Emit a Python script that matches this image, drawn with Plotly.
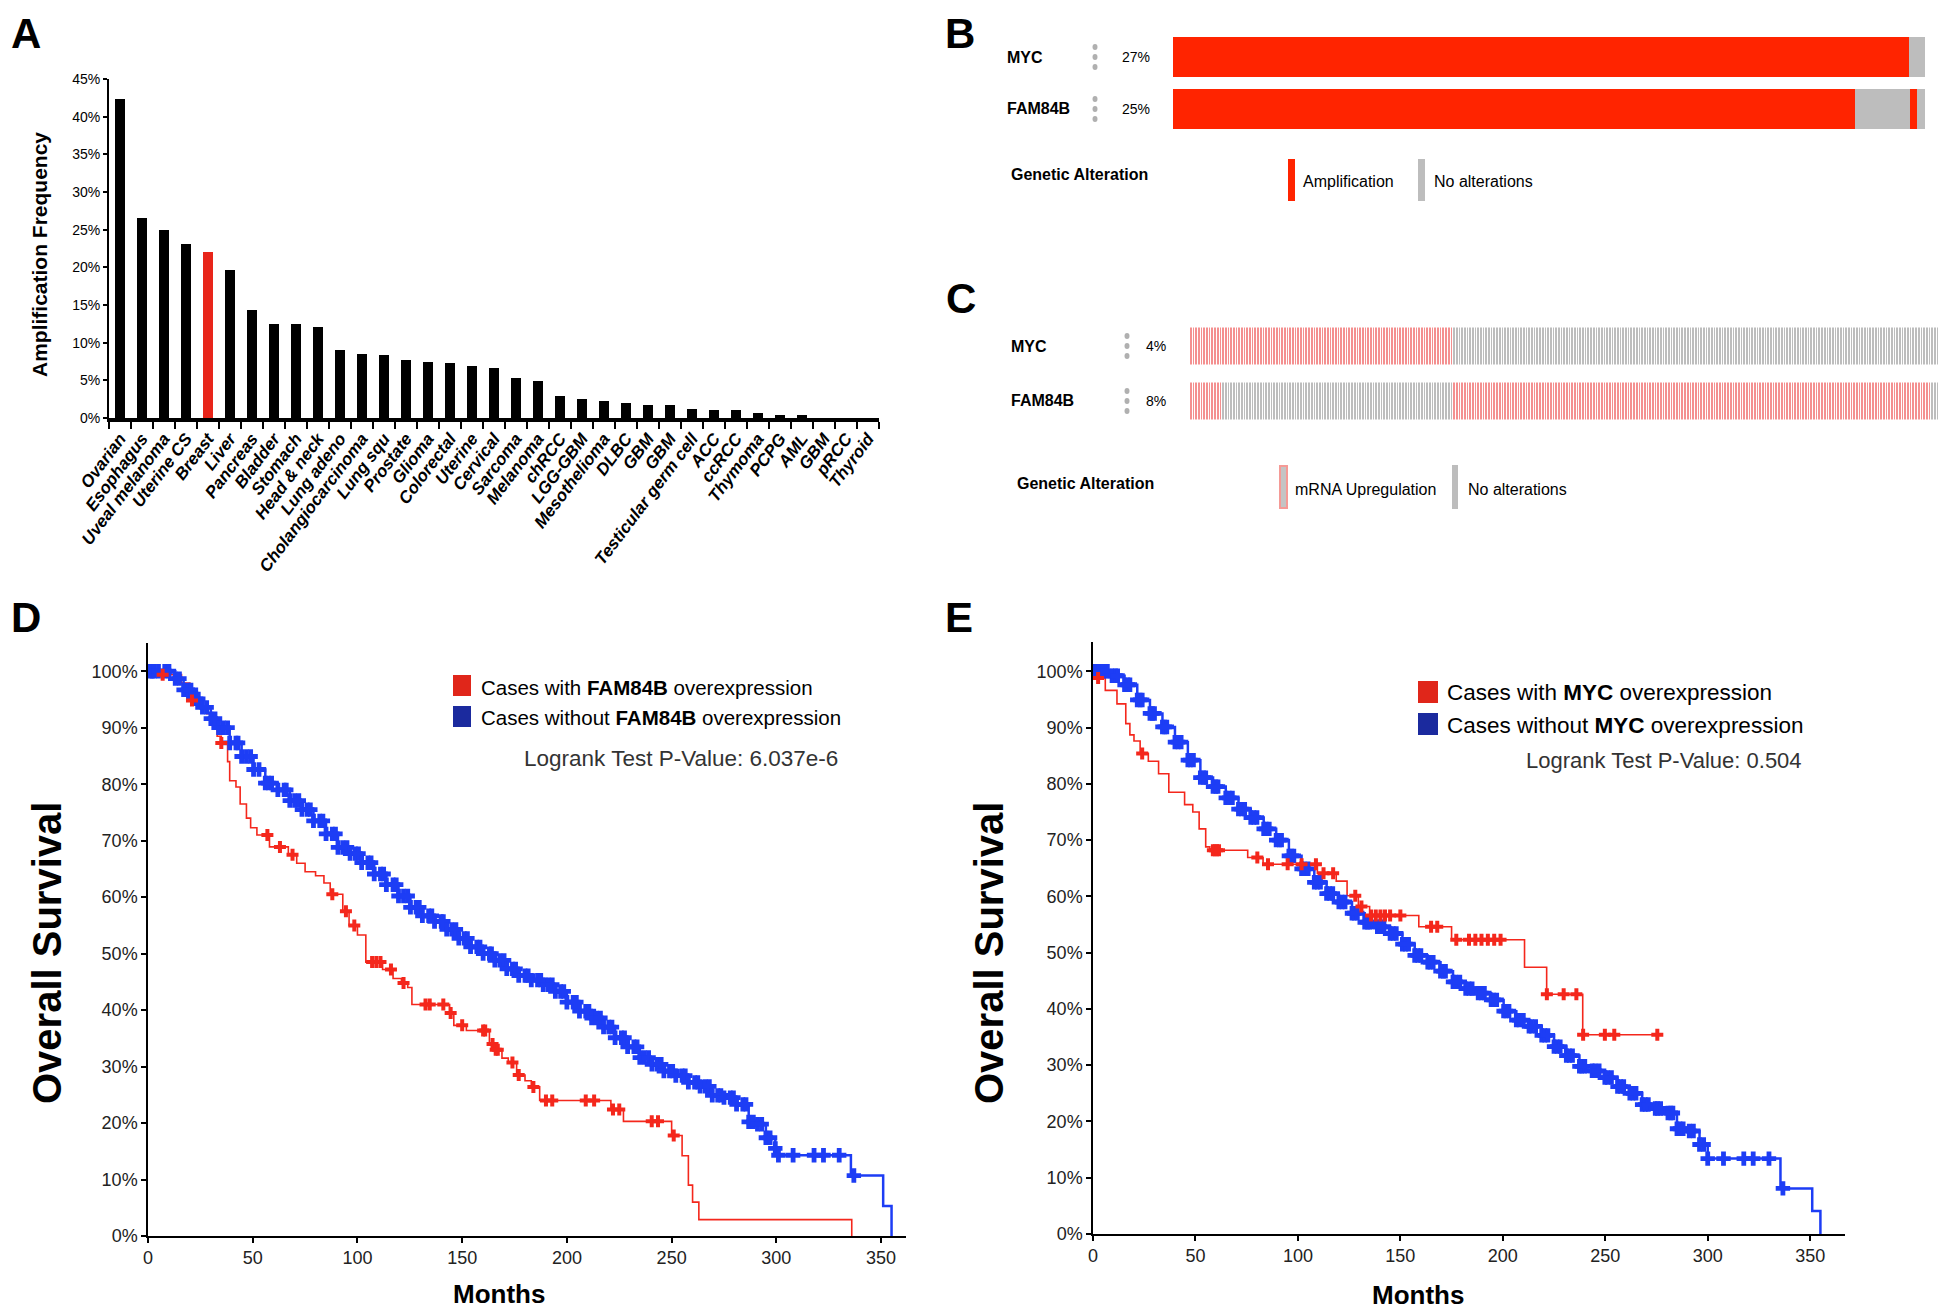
import numpy as np
import plotly.graph_objects as go

W, H = 1946, 1313
PAGE_OFF = 8  # default body margin of the written page

# ---------------- panel A: amplification frequency per cancer type
cancer_types = ["Ovarian", "Esophagus", "Uveal melanoma", "Uterine CS", "Breast", "Liver",
                "Pancreas", "Bladder", "Stomach", "Head & neck", "Lung adeno",
                "Cholangiocarcinoma", "Lung squ", "Prostate", "Glioma", "Colorectal",
                "Uterine", "Cervical", "Sarcoma", "Melanoma", "chRCC", "LGG-GBM",
                "Mesothelioma", "DLBC", "GBM", "GBM", "Testicular germ cell", "ACC",
                "ccRCC", "Thymoma", "PCPG", "AML", "GBM", "pRCC", "Thyroid"]
amp_freq = [42.4, 26.5, 25.0, 23.1, 22.0, 19.7, 14.3, 12.5, 12.45, 12.1, 9.0, 8.45, 8.3,
            7.7, 7.4, 7.25, 6.85, 6.7, 5.25, 4.9, 2.9, 2.5, 2.2, 2.05, 1.7, 1.7, 1.25,
            1.0, 1.0, 0.7, 0.45, 0.45, 0, 0, 0]
highlight = "Breast"
a_ticks = [0, 5, 10, 15, 20, 25, 30, 35, 40, 45]

# ---------------- panel B: oncoprint, amplification
b_genes = ["MYC", "FAM84B"]
b_pct = ["27%", "25%"]
b_myc_kind = ["amp", "none"]
b_myc_width = [97.9, 2.1]
b_fam_kind = ["amp", "none", "amp", "none"]
b_fam_width = [90.7, 7.3, 0.9, 1.1]

# ---------------- panel C: oncoprint, mRNA upregulation (samples)
c_genes = ["MYC", "FAM84B"]
c_pct = ["4%", "8%"]
c_myc_kind = ["up", "none"]
c_myc_runs = [98, 182]
c_fam_kind = ["up", "none", "up", "none"]
c_fam_runs = [12, 86, 178, 4]

# ---------------- panel D: KM, FAM84B
d_red_t = [0, 7, 16, 20, 25, 28, 30, 31, 33, 35, 38, 39, 42, 44, 47, 49, 52, 58, 67, 71,
           75, 80, 84, 87, 93, 96, 100, 104, 112, 117, 121, 124, 126, 144, 146, 152, 163,
           165, 169, 172, 176, 180, 183, 187, 221, 227, 250, 255, 258, 260, 263, 336]
d_red_s = [100, 99.4, 97.9, 94.8, 93.5, 92.5, 91.0, 90.0, 88.5, 87.3, 84.0, 80.6, 79.5,
           76.5, 74.0, 72.3, 71.0, 68.9, 67.5, 66.0, 64.5, 63.8, 62.5, 60.5, 57.5, 55.0,
           53.3, 48.5, 47.2, 45.6, 44.8, 44.0, 41.0, 39.5, 37.3, 36.4, 34.0, 33.0, 31.5,
           30.7, 28.5, 27.5, 26.4, 24.0, 22.4, 20.3, 17.8, 14.2, 9.0, 6.0, 2.9, 0]
d_red_cens = [7, 21, 35, 57, 63, 69, 88, 94.5, 98.5, 107, 109, 111, 116, 122, 132.5, 134.5,
              141, 144.5, 150, 160, 161, 164.5, 166, 167, 174, 177, 184, 190, 193, 209, 213,
              222, 225, 240.5, 243.5, 251]
d_blue_t = [0, 13, 17, 21.6, 26, 30, 33.7, 39, 44.7, 50.4, 56, 62, 67.7, 73.5, 79, 85, 90.7,
            96.5, 102, 108, 113.8, 119.6, 125.3, 131, 136.8, 142.6, 148.4, 154, 160, 165.6,
            171.3, 177, 183, 188.7, 194.5, 200, 206, 211.8, 217.5, 223, 229, 234.8, 240.6,
            246.3, 252, 258, 263.6, 269.4, 275, 281, 286.8, 291, 295, 299.5, 301, 335.6,
            351, 355]
d_blue_s = [100, 98.7, 96.7, 95.1, 93.6, 91.6, 90.0, 87.3, 84.9, 82.6, 80.2, 79.0, 77.1,
            75.5, 73.5, 71.2, 68.8, 67.7, 66.1, 64.1, 62.2, 60.2, 58.2, 56.7, 55.7, 54.3,
            52.7, 51.2, 50.0, 48.8, 47.3, 46.1, 45.3, 44.5, 43.3, 41.4, 39.8, 38.6, 37.0,
            35.1, 33.5, 31.6, 30.4, 29.2, 28.4, 27.2, 26.5, 24.9, 24.5, 23.3, 20.2, 19.8,
            17.4, 15.5, 14.3, 10.7, 5.3, 0]
d_blue_cens = [1, 2, 3, 5, 8, 10, 13, 15, 17, 19, 20.5, 21.6, 23, 24, 26, 28, 30, 32, 33.7,
               36, 38, 39, 42, 43, 44.7, 47, 49, 50.4, 53, 56, 57.5, 59, 62, 65, 66, 67.7, 70,
               72, 73.5, 76, 77.5, 79, 82, 83.5, 85, 88, 89.5, 90.7, 93, 95, 96.5, 99, 100.5,
               102, 105, 106.5, 108, 111, 112.5, 113.8, 117, 118.5, 119.6, 122, 124, 125.3,
               128, 129.5, 131, 134, 135.5, 136.8, 140, 141, 142.6, 145, 147, 148.4, 151,
               152.5, 154, 157, 158.5, 160, 163, 164, 165.6, 168, 170, 171.3, 174, 175.5, 177,
               180, 181.5, 183, 186, 187.5, 188.7, 191, 193, 194.5, 197, 198.5, 200, 203,
               204.5, 206, 209, 210.5, 211.8, 214, 216, 217.5, 220, 221.5, 223, 226, 227.5,
               229, 232, 233.5, 234.8, 237, 239, 240.6, 243, 245, 246.3, 249, 250.5, 252, 255,
               256.5, 258, 261, 262.5, 263.6, 266, 268, 269.4, 272, 273.5, 275, 278, 279.5,
               281, 284, 285.5, 286.8, 289, 291, 293, 295, 297, 299.5, 301, 308, 318, 322.5,
               330, 337]
d_pvalue = "6.037e-6"

# ---------------- panel E: KM, MYC
e_red_t = [0, 1.5, 6, 11.7, 16, 18, 20, 23, 27, 32, 37, 44.7, 48.7, 51.8, 55, 57, 75.5, 83,
           109.5, 118.7, 124, 129.5, 135, 159, 175, 210.6, 221.4, 239, 276]
e_red_s = [100, 98.8, 96.6, 94.2, 90.7, 88.7, 87.6, 85.4, 84.0, 81.8, 78.5, 76.3, 75.0,
           72.0, 68.8, 68.2, 66.9, 65.7, 64.1, 62.7, 60.1, 58.2, 56.6, 54.6, 52.3, 47.4,
           42.6, 35.4, 35.4]
e_red_cens = [2.5, 24, 58.5, 59.5, 60.5, 61.5, 80.2, 85.4, 95, 101.8, 108.8, 112.5, 117.2,
              128, 131, 135.7, 138, 140.3, 142.5, 145, 150, 165, 168, 177.3, 183.5, 186.6,
              189.6, 192.7, 195.8, 198.9, 221.5, 229.7, 235.9, 239.2, 249.8, 254.4, 275.4]
e_blue_t = [0, 9.3, 15.4, 21.6, 27.8, 33.9, 40, 46.3, 52.4, 58.6, 64.8, 71, 77, 83.3, 89.4,
            95.6, 101.8, 108, 114, 120, 126.4, 132.6, 138.8, 145, 151, 157, 163.4, 169.6,
            175.7, 181.9, 188, 194.3, 200.4, 206.6, 212.8, 219, 225, 231, 237.4, 243.6,
            249.8, 256, 262, 268, 274.4, 280.6, 285, 291, 296, 300, 335.5, 351, 355]
e_blue_s = [100, 99.2, 97.6, 94.9, 92.5, 90.1, 87.4, 84.2, 81.1, 79.5, 77.5, 75.5, 74.0,
            72.0, 70.0, 67.2, 64.9, 62.5, 60.5, 59.0, 57.0, 55.4, 54.6, 53.4, 51.5, 49.5,
            48.3, 46.7, 44.8, 43.6, 42.8, 41.6, 39.6, 38.0, 36.9, 35.3, 33.3, 31.7, 29.8,
            29.0, 27.8, 26.2, 25.0, 23.0, 22.3, 21.5, 18.7, 18.3, 15.9, 13.4, 8.1, 4.1, 0]
e_blue_cens = [1, 2, 3, 5, 7, 9.3, 11, 12, 15.4, 17, 18, 21.6, 23, 24, 27.8, 29, 30, 33.9,
               35, 36, 40, 41.5, 43, 46.3, 47.5, 49, 52.4, 54, 55, 58.6, 60, 61, 64.8, 66.5,
               68, 71, 72.5, 74, 77, 78.5, 80, 83.3, 84.5, 86, 89.4, 91, 92, 95.6, 97, 98,
               101.8, 103, 105, 108, 109.5, 111, 114, 115.5, 117, 120, 121.5, 123, 126.4,
               127.5, 129, 132.6, 134, 135, 138.8, 140, 142, 145, 146.5, 148, 151, 152.5, 154,
               157, 158.5, 160, 163.4, 164.5, 166, 169.6, 171, 172, 175.7, 177, 179, 181.9,
               183.5, 185, 188, 189.5, 191, 194.3, 195.5, 197, 200.4, 201.5, 203, 206.6, 208,
               210, 212.8, 214, 216, 219, 220.5, 222, 225, 226.5, 228, 231, 232.5, 234, 237.4,
               238.5, 240, 243.6, 245, 247, 249.8, 251, 253, 256, 257.5, 259, 262, 263.5, 265,
               268, 269.5, 271, 274.4, 275.5, 277, 280.6, 282, 283, 285, 286.5, 288, 291,
               293, 296, 298, 300, 307.7, 317.6, 322.2, 329.9, 336.7]
e_pvalue = "0.504"

SANS = "Liberation Sans, Arial, sans-serif"
AMP_RED = "#ff2400"
NOALT = "#bdbdbd"
UP_PINK = "#f49090"
KM_RED = "#f4271c"
KM_BLUE = "#1d3df5"


def px(x):
    return (x - PAGE_OFF) / W


def py(y):
    return 1 - (y - PAGE_OFF) / H


def surv_at(ts, ss, times):
    idx = np.searchsorted(np.array(ts), np.array(times), side="right") - 1
    return np.array(ss)[idx]


fig = go.Figure()

# ---- A
bar_colors = ["#e8251a" if c == highlight else "black" for c in cancer_types]
fig.add_trace(go.Bar(x=list(range(len(cancer_types))), y=amp_freq, width=0.42,
                     marker=dict(color=bar_colors, line=dict(width=0)),
                     xaxis="x", yaxis="y", showlegend=False))

# ---- B
for gi, (kinds, widths) in enumerate([(b_fam_kind, b_fam_width), (b_myc_kind, b_myc_width)]):
    start = 0.0
    for k, w in zip(kinds, widths):
        fig.add_trace(go.Bar(x=[w], base=[start], y=[gi], orientation="h", width=0.77,
                             marker=dict(color=AMP_RED if k == "amp" else NOALT,
                                         line=dict(width=0)),
                             xaxis="x2", yaxis="y2", showlegend=False))
        start += w

# ---- C
rows = []
for kinds, runs in [(c_fam_kind, c_fam_runs), (c_myc_kind, c_myc_runs)]:
    rows.append(np.repeat([1 if k == "up" else 0 for k in kinds], runs))
fig.add_trace(go.Heatmap(z=np.array(rows), y=[0, 1], x=list(range(len(rows[0]))),
                         colorscale=[[0, NOALT], [0.5, NOALT], [0.5, UP_PINK], [1, UP_PINK]],
                         zmin=0, zmax=1, showscale=False, xgap=1, ygap=18,
                         xaxis="x3", yaxis="y3", hoverinfo="skip"))

# ---- D and E
for xa, ya, red_t, red_s, red_c, blue_t, blue_s, blue_c in [
        ("x4", "y4", d_red_t, d_red_s, d_red_cens, d_blue_t, d_blue_s, d_blue_cens),
        ("x5", "y5", e_red_t, e_red_s, e_red_cens, e_blue_t, e_blue_s, e_blue_cens)]:
    fig.add_trace(go.Scatter(x=red_t, y=red_s, mode="lines", line=dict(color=KM_RED, width=1.6, shape="hv"),
                             xaxis=xa, yaxis=ya, showlegend=False))
    fig.add_trace(go.Scatter(x=blue_t, y=blue_s, mode="lines", line=dict(color=KM_BLUE, width=2.5, shape="hv"),
                             xaxis=xa, yaxis=ya, showlegend=False))
    fig.add_trace(go.Scatter(x=blue_c, y=surv_at(blue_t, blue_s, blue_c), mode="markers",
                             marker=dict(symbol="cross", size=12, color=KM_BLUE, line=dict(width=0)),
                             xaxis=xa, yaxis=ya, showlegend=False))
    fig.add_trace(go.Scatter(x=red_c, y=surv_at(red_t, red_s, red_c), mode="markers",
                             marker=dict(symbol="cross", size=10, color=KM_RED, line=dict(width=0)),
                             xaxis=xa, yaxis=ya, showlegend=False))

hidden = dict(visible=False, fixedrange=True, automargin=False)
km_x = dict(tickvals=[0, 50, 100, 150, 200, 250, 300, 350], ticks="outside", ticklen=5,
            tickwidth=1.5, tickcolor="black", showline=True, linewidth=1.5, linecolor="black",
            showgrid=False, zeroline=False, automargin=False,
            tickfont=dict(family=SANS, size=18, color="#222"))
km_yticks = list(range(0, 101, 10))
km_y = dict(tickvals=km_yticks, ticktext=[f"{v}%" for v in km_yticks], ticks="outside",
            ticklen=5, tickwidth=1.5, tickcolor="black", showline=True, linewidth=1.5,
            linecolor="black", showgrid=False, zeroline=False, automargin=False,
            tickfont=dict(family=SANS, size=18, color="#222"))

fig.update_layout(
    width=W, height=H, autosize=False,
    margin=dict(l=0, r=0, t=0, b=0, pad=0),
    paper_bgcolor="white", plot_bgcolor="rgba(0,0,0,0)",
    bargap=0, barmode="overlay", showlegend=False,
    xaxis=dict(domain=[px(109), px(879)], range=[-0.5, len(cancer_types) - 0.5],
               tickvals=list(range(len(cancer_types))), ticktext=cancer_types,
               tickangle=-53, ticks="", showline=True, linewidth=4, linecolor="black",
               showgrid=False, zeroline=False, anchor="y", automargin=False,
               tickfont=dict(family=SANS, size=17, color="black", weight="bold", style="italic"),
               minor=dict(ticks="outside", ticklen=7, tickwidth=2, tickcolor="black",
                          tick0=-0.5, dtick=1, showgrid=False)),
    yaxis=dict(domain=[py(418), py(79)], range=[0, 45], tickvals=a_ticks,
               ticktext=[f"{v}%" for v in a_ticks],
               ticks="outside", ticklen=4, tickwidth=2, tickcolor="black",
               showline=True, linewidth=2, linecolor="black", showgrid=False, zeroline=False,
               anchor="x", automargin=False, tickfont=dict(family=SANS, size=14, color="black")),
    xaxis2=dict(domain=[px(1173), px(1925)], range=[0, 100], anchor="y2", **hidden),
    yaxis2=dict(domain=[py(135), py(31)], range=[-0.5, 1.5], anchor="x2", **hidden),
    xaxis3=dict(domain=[px(1190), px(1942)], range=[-0.5, len(rows[0]) - 0.5], anchor="y3", **hidden),
    yaxis3=dict(domain=[py(428.5), py(318.5)], range=[-0.5, 1.5], anchor="x3", **hidden),
    xaxis4=dict(domain=[px(148), px(906)], range=[0, 361.9], anchor="y4", **km_x),
    yaxis4=dict(domain=[py(1236), py(643)], range=[0, 105], anchor="x4", **km_y),
    xaxis5=dict(domain=[px(1093), px(1845)], range=[0, 367], anchor="y5", **km_x),
    yaxis5=dict(domain=[py(1234), py(642)], range=[0, 105.2], anchor="x5", **km_y),
)

annotations = []
shapes = []


def ann(text, x, y, size, family=SANS, xanchor="left", color="black", angle=0):
    annotations.append(dict(text=text, x=px(x), y=py(y), xref="paper", yref="paper",
                            xanchor=xanchor, yanchor="middle", showarrow=False,
                            textangle=angle, font=dict(family=family, size=size, color=color)))


def rect(x0, y0, x1, y1, fill, line=None):
    shapes.append(dict(type="rect", xref="paper", yref="paper", x0=px(x0), x1=px(x1),
                       y0=py(y1), y1=py(y0), fillcolor=fill,
                       line=dict(width=2 if line else 0, color=line or fill), layer="above"))


def dots(x, ys):
    for yy in ys:
        shapes.append(dict(type="circle", xref="paper", yref="paper", x0=px(x - 2.5), x1=px(x + 2.5),
                           y0=py(yy + 3), y1=py(yy - 3), fillcolor="#b0b0b0", line=dict(width=0)))


# panel letters
ann("<b>A</b>", 9, 33, 42)
ann("<b>D</b>", 9, 617, 42)
for letter, x, y in [("B", 960, 33), ("C", 961, 298), ("E", 959, 617)]:
    ann(f"<b>{letter}</b>", x, y, 42, xanchor="center")

# A
ann("<b>Amplification Frequency</b>", 40, 255, 21, xanchor="center", angle=-90)

# B
for gene, pct, yy in zip(b_genes, b_pct, [57, 109]):
    ann(f"<b>{gene}</b>", 1005, yy, 16)
    ann(pct, 1152, yy, 14, xanchor="right")
    dots(1095, [yy - 10, yy, yy + 10])
ann("<b>Genetic Alteration</b>", 1009, 175, 16)
rect(1288, 159, 1295, 201, AMP_RED)
ann("Amplification", 1301, 182, 16)
rect(1418, 159, 1425, 201, NOALT)
ann("No alterations", 1432, 182, 16)

# C
for gene, pct, yy in zip(c_genes, c_pct, [346, 401]):
    ann(f"<b>{gene}</b>", 1009, yy, 16)
    ann(pct, 1168, yy, 14, xanchor="right")
    dots(1127, [yy - 10, yy, yy + 10])
ann("<b>Genetic Alteration</b>", 1015, 483, 16)
rect(1280, 466, 1287, 508, "#c4c4c4", line="#f59a96")
ann("mRNA Upregulation", 1293, 489, 16)
rect(1452, 465, 1458, 509, NOALT)
ann("No alterations", 1466, 489, 16)

# D
ann("<b>Overall Survival</b>", 47, 953, 40, xanchor="center", angle=-90)
ann("<b>Months</b>", 499, 1294, 26, xanchor="center")
rect(453, 675, 471, 696, "#e0261a")
rect(453, 706, 471, 727, "#1b2a9e")
ann("Cases with <b>FAM84B</b> overexpression", 479, 687, 20.5)
ann("Cases without <b>FAM84B</b> overexpression", 479, 717, 20.5)
ann(f"Logrank Test P-Value: {d_pvalue}", 840, 758, 22.5, xanchor="right", color="#333")

# E
ann("<b>Overall Survival</b>", 989, 953, 40, xanchor="center", angle=-90)
ann("<b>Months</b>", 1418, 1295, 26, xanchor="center")
rect(1418, 681, 1438, 703, "#e0261a")
rect(1418, 713, 1438, 735, "#1b2a9e")
ann("Cases with <b>MYC</b> overexpression", 1445, 692, 22.5)
ann("Cases without <b>MYC</b> overexpression", 1445, 725, 22.5)
ann(f"Logrank Test P-Value: {e_pvalue}", 1804, 760, 22, xanchor="right", color="#333")

fig.update_layout(annotations=annotations, shapes=shapes)
fig.write_html("out.html")
